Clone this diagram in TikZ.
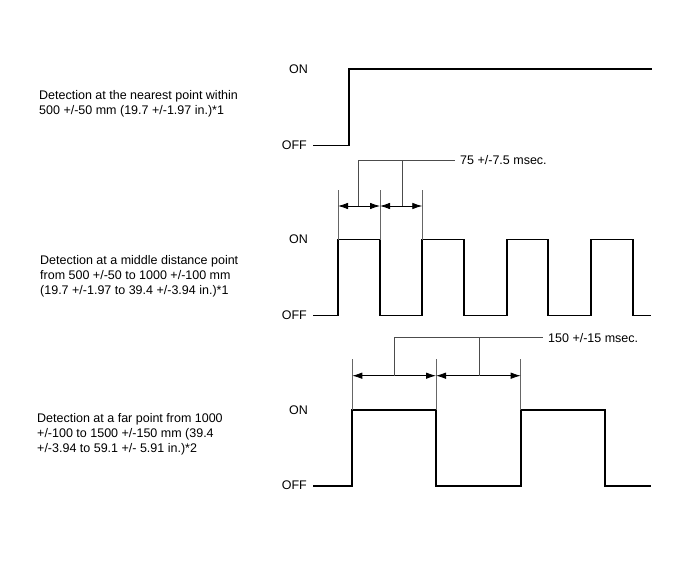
\documentclass[tikz,border=0pt]{standalone}
\usepackage{fontspec}
\setmainfont{Liberation Sans}
\usetikzlibrary{arrows.meta}
\begin{document}
\begin{tikzpicture}[x=1pt,y=-1pt,
  lbl/.style={font=\fontsize{12.5}{15.2}\selectfont, inner sep=0pt},
  desc/.style={lbl, anchor=west, align=left},
  lvl/.style={lbl, anchor=east},
  sig/.style={line width=1.8pt, line join=miter, line cap=butt},
  ext/.style={line width=0.6pt, draw=black!60},
  lead/.style={line width=0.6pt, draw=black!70},
  dim/.style={line width=0.8pt, {Latex[length=10pt,width=6.5pt]}-{Latex[length=10pt,width=6.5pt]}}]
\useasboundingbox (0,0) rectangle (690,564);
% ---------- descriptions
\node[desc] (d1) at (39,104) {Detection at the nearest point within\\500 +/-50 mm (19.7 +/-1.97 in.)*1};
\node[desc] (d2) at (40,276) {Detection at a middle distance point\\from 500 +/-50 to 1000 +/-100 mm\\(19.7 +/-1.97 to 39.4 +/-3.94 in.)*1};
\node[desc] (d3) at (37,434.5) {Detection at a far point from 1000\\+/-100 to 1500 +/-150 mm (39.4\\+/-3.94 to 59.1 +/- 5.91 in.)*2};
% ---------- level labels
\node[lvl] (on1) at (308,69) {ON};
\node[lvl] (off1) at (307,145.5) {OFF};
\node[lvl] (on2) at (308,239) {ON};
\node[lvl] (off2) at (307,315.5) {OFF};
\node[lvl] (on3) at (308,410) {ON};
\node[lvl] (off3) at (307,485.5) {OFF};
% ---------- waveform 1
\draw[sig] (313,145.5) -- (349,145.5) -- (349,69) -- (652,69);
% ---------- waveform 2
\draw[sig] (313,315.5) -- (338,315.5) -- (338,239.5) -- (380,239.5) -- (380,315.5)
  -- (422.3,315.5) -- (422.3,239.5) -- (464,239.5) -- (464,315.5)
  -- (506.7,315.5) -- (506.7,239.5) -- (548.3,239.5) -- (548.3,315.5)
  -- (591,315.5) -- (591,239.5) -- (632.7,239.5) -- (632.7,315.5) -- (651,315.5);
% extension lines
\coordinate (a1) at (338,206); \coordinate (a2) at (380,206); \coordinate (a3) at (422.3,206);
\draw[ext] (338,190) -- (338,239.5);
\draw[ext] (380,190) -- (380,239.5);
\draw[ext] (422.3,190) -- (422.3,239.5);
\draw[dim] (a1) -- (a2);
\draw[dim] (a2) -- (a3);
\node[lbl, anchor=west] (t75) at (460,160.5) {75 +/-7.5 msec.};
\coordinate (e75) at (455,160.5);
\draw[lead] (358.7,206) -- (358.7,160.5) -- (e75);
\draw[lead] (402.3,206) -- (402.3,160.5);
% ---------- waveform 3
\draw[sig] (313,485.7) -- (352.3,485.7) -- (352.3,410) -- (436,410) -- (436,485.7)
  -- (520.7,485.7) -- (520.7,410) -- (605,410) -- (605,485.7) -- (651,485.7);
\coordinate (b1) at (352.3,375.7); \coordinate (b2) at (436,375.7); \coordinate (b3) at (520.7,375.7);
\draw[ext] (352.3,359.3) -- (352.3,410);
\draw[ext] (436,359.3) -- (436,410);
\draw[ext] (520.7,359.3) -- (520.7,410);
\draw[dim] (b1) -- (b2);
\draw[dim] (b2) -- (b3);
\node[lbl, anchor=west] (t150) at (548,337.7) {150 +/-15 msec.};
\coordinate (e150) at (543,337.7);
\draw[lead] (394.3,375.7) -- (394.3,337.7) -- (e150);
\draw[lead] (479.3,375.7) -- (479.3,337.7);
\end{tikzpicture}
\end{document}
